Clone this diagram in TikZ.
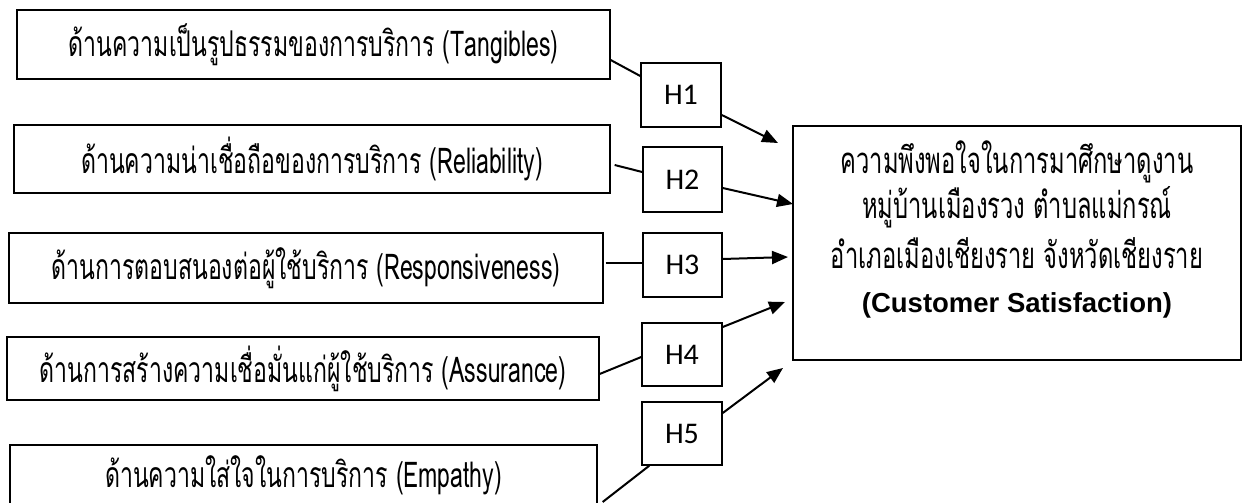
\documentclass[tikz,border=0pt]{standalone}
\usepackage{fontspec}
\usetikzlibrary{arrows.meta,calc}
\newfontfamily\thaifont[Script=Thai,FakeStretch=0.65]{Loma}
\newfontfamily\hfont{Carlito}
\newfontfamily\arialfont{Liberation Sans}
\begin{document}
\begin{tikzpicture}[x=1pt,y=-1pt,
  thaitext/.style={font=\thaifont\fontsize{36.5}{40}\selectfont},
  lefttext/.style={font=\thaifont\fontsize{35.5}{40}\selectfont},
  leftbox/.style={draw, line width=1.3pt, inner sep=0pt, minimum height=69pt, lefttext},
  hbox/.style={draw, line width=1.5pt, inner sep=0pt, minimum width=80pt, minimum height=64pt, font=\hfont\fontsize{30}{34}\selectfont},
  bigbox/.style={draw, line width=1.3pt, inner sep=0pt, minimum width=448pt, minimum height=234pt},
  link/.style={line width=2pt},
  arrowlink/.style={line width=2pt, -{Triangle[length=16pt,width=13pt]}}]
\useasboundingbox[fill=white] (0,0) rectangle (1248,503);
% left boxes
\node[leftbox, minimum width=593pt] (b1) at (313.5,44.5) {ด้านความเป็นรูปธรรมของการบริการ (Tangibles)};
\node[leftbox, minimum width=596pt, minimum height=68pt] (b2) at (312,159) {ด้านความน่าเชื่อถือของการบริการ (Reliability)};
\node[leftbox, minimum width=594pt, minimum height=70pt] (b3) at (306,268) {ด้านการตอบสนองต่อผู้ใช้บริการ (Responsiveness)};
\node[leftbox, minimum width=592pt, minimum height=63pt] (b4) at (303,368.5) {ด้านการสร้างความเชื่อมั่นแก่ผู้ใช้บริการ (Assurance)};
\node[leftbox, minimum width=587pt, minimum height=70pt] (b5) at (303.5,480) {};
\node[lefttext, inner sep=0pt] (b5t) at (303.5,475) {ด้านความใส่ใจในการบริการ (Empathy)};
% H boxes
\node[hbox] (h1) at (681,95) {H1};
\node[hbox, minimum width=79pt, minimum height=65pt] (h2) at (682.5,179.5) {H2};
\node[hbox, minimum width=79pt] (h3) at (682.5,265) {H3};
\node[hbox, minimum height=63pt] (h4) at (682,354.5) {H4};
\node[hbox, minimum height=63pt] (h5) at (682,433.5) {H5};
% outcome box
\node[bigbox] (out) at (1017,243) {};
\node[thaitext] (o1) at (1017,162) {ความพึงพอใจในการมาศึกษาดูงาน};
\node[thaitext] (o2) at (1017,207) {หมู่บ้านเมืองรวง ตำบลแม่กรณ์};
\node[thaitext] (o3) at (1017,253) {อำเภอเมืองเชียงราย จังหวัดเชียงราย};
\node[font=\arialfont\bfseries\fontsize{27.5}{30}\selectfont] (o4) at (1017,305) {(Customer Satisfaction)};
% arrow tips (free ends)
\coordinate (t1) at (778,143);
\coordinate (t2) at (793,204);
\coordinate (t3) at (788,257);
\coordinate (t4) at (785,302);
\coordinate (t5) at (783,368);
% connectors
\draw[link] ([yshift=-15.5pt]b1.east) -- ([yshift=19pt]h1.west);
\draw[arrowlink] ([yshift=-20pt]h1.east) -- (t1);
\draw[link] ([xshift=4pt,yshift=-6pt]b2.east) -- ([yshift=7.5pt]h2.west);
\draw[arrowlink] ([yshift=-8.5pt]h2.east) -- (t2);
\draw[link] ([xshift=2pt,yshift=5pt]b3.east) -- ([yshift=2pt]h3.west);
\draw[arrowlink] ([yshift=6pt]h3.east) -- (t3);
\draw[link] ([yshift=-5.5pt]b4.east) -- ([yshift=-2.5pt]h4.west);
\draw[arrowlink] ([yshift=27.5pt]h4.east) -- (t4);
\draw[link] ([xshift=5pt,yshift=-22pt]b5.east) -- ([xshift=8pt]h5.south west);
\draw[arrowlink] ([yshift=20.5pt]h5.east) -- (t5);
\end{tikzpicture}
\end{document}
